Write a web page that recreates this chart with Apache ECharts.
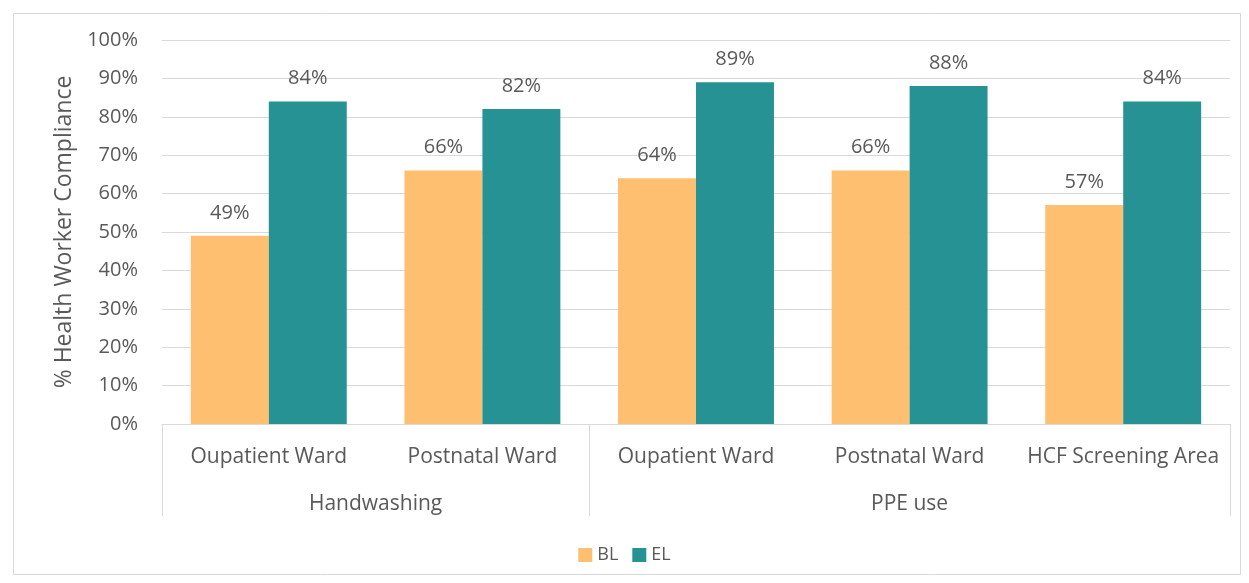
<!DOCTYPE html>
<html>
<head>
<meta charset="utf-8">
<script src="https://cdn.jsdelivr.net/npm/echarts@6/dist/echarts.min.js"></script>
<style>
  html, body { margin: 0; padding: 0; background: #fff; }
  #main { width: 1249px; height: 583px; }
</style>
</head>
<body>
<div id="main"></div>
<script>
// 数据
var wards = ['Oupatient Ward', 'Postnatal Ward', 'Oupatient Ward', 'Postnatal Ward', 'HCF Screening Area'];
var groups = ['Handwashing', 'PPE use'];
var groupEdges = [0, 2, 5];      // category boundaries of each group
var groupCenters = [1, 3.5];
var blValues = [49, 66, 64, 66, 57];
var elValues = [84, 82, 89, 88, 84];

var textColor = '#595959';
var lineColor = '#d9d9d9';
var font = 'Open Sans';

var chart = echarts.init(document.getElementById('main'));

function pct(p) { return p.value + '%'; }

chart.setOption({
    animation: false,
    textStyle: { fontFamily: font, color: textColor },
    graphic: [{
        type: 'rect',
        left: 11, top: 11,
        shape: { width: 1227, height: 561 },
        style: { fill: 'none', stroke: lineColor, lineWidth: 1 },
        silent: true
    }],
    grid: { left: 162, right: 19, top: 40, bottom: 159 },
    legend: {
        bottom: 14,
        left: 'center',
        itemWidth: 14, itemHeight: 14,
        itemGap: 14,
        icon: 'rect',
        textStyle: { fontFamily: font, fontSize: 18, color: textColor },
        data: ['BL', 'EL']
    },
    xAxis: [{
        type: 'category',
        data: wards,
        axisLine: { lineStyle: { color: lineColor, width: 1 } },
        axisTick: { show: false },
        axisLabel: { color: textColor, fontFamily: font, fontSize: 21, margin: 23, interval: 0 }
    }, {
        type: 'value',
        position: 'bottom',
        min: 0, max: 5,
        axisLine: { show: false },
        splitLine: { show: false },
        axisTick: {
            show: true, inside: false, length: 92,
            customValues: groupEdges,
            lineStyle: { color: lineColor, width: 1 }
        },
        axisLabel: {
            customValues: groupCenters,
            margin: 70,
            color: textColor, fontFamily: font, fontSize: 21,
            formatter: function (v) { return groups[groupCenters.indexOf(v)]; }
        }
    }],
    yAxis: {
        type: 'value',
        min: 0, max: 100, interval: 10,
        name: '% Health Worker Compliance',
        nameLocation: 'middle',
        nameGap: 86,
        nameTextStyle: { fontFamily: font, fontSize: 23, color: textColor },
        axisLine: { show: false },
        axisTick: { show: false },
        axisLabel: { formatter: '{value}%', color: textColor, fontFamily: font, fontSize: 20, margin: 24 },
        splitLine: { lineStyle: { color: lineColor, width: 1 } }
    },
    series: [{
        name: 'BL',
        type: 'bar',
        data: blValues,
        barGap: '0%',
        barCategoryGap: '27%',
        itemStyle: { color: '#FFBF71' },
        label: { show: true, position: 'top', distance: 13, formatter: pct, fontFamily: font, fontSize: 20, color: textColor }
    }, {
        name: 'EL',
        type: 'bar',
        data: elValues,
        barGap: '0%',
        barCategoryGap: '27%',
        itemStyle: { color: '#279294' },
        label: { show: true, position: 'top', distance: 13, formatter: pct, fontFamily: font, fontSize: 20, color: textColor }
    }]
});
</script>
</body>
</html>
